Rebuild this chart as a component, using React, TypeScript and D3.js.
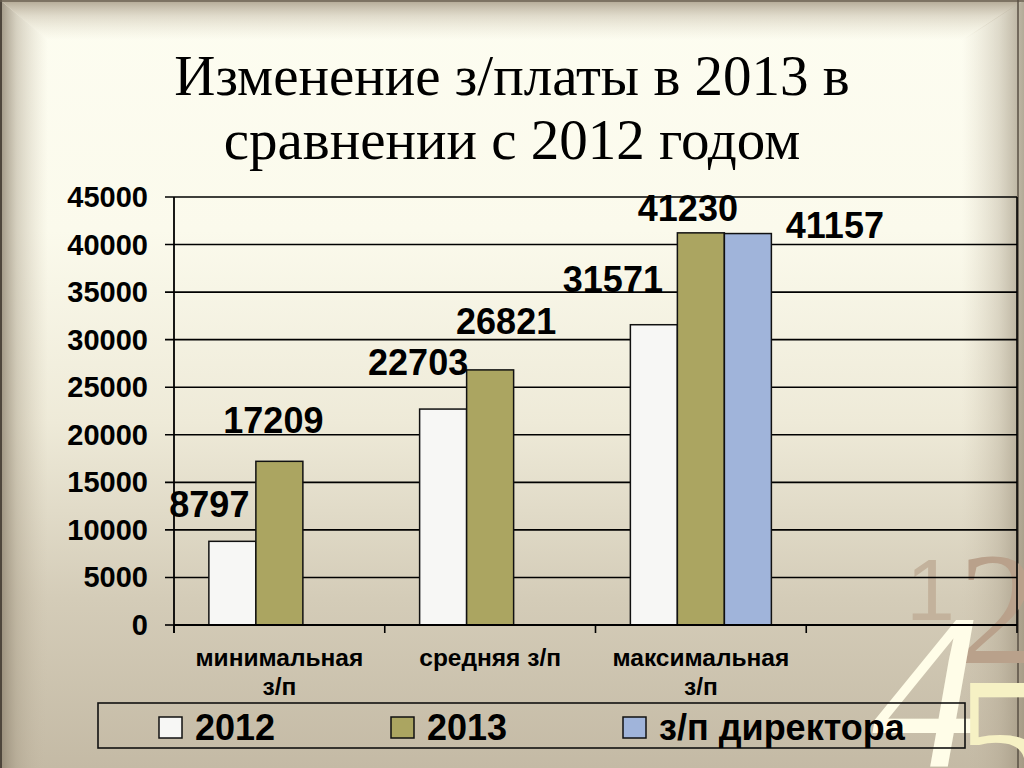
import React from "react";
import * as d3 from "d3";

// ---- data ----
const categories = ["минимальная\nз/п", "средняя з/п", "максимальная\nз/п", ""];
const seriesNames = ["2012", "2013", "з/п директора"];
const values2012: (number | null)[] = [8797, 22703, 31571, null];
const values2013: (number | null)[] = [17209, 26821, 41230, null];
const valuesDirector: (number | null)[] = [null, null, 41157, null];
const yTicks = [0, 5000, 10000, 15000, 20000, 25000, 30000, 35000, 40000, 45000];
const titleLines = ["Изменение з/платы в 2013 в", "сравнении с 2012 годом"];

// ---- style ----
const seriesColors = ["#F7F7F5", "#ABA561", "#A0B4DA"];
// label offsets (px) relative to bar centre / bar top, per series, per category
const labelNudges: [number, number][][] = [
  [[-23, -24], [-25, -34], [-41, -33], [0, 0]],
  [[-6, -28], [16, -36], [-13, -12], [0, 0]],
  [[0, 0], [0, 0], [87, 4], [0, 0]],
];

const W = 1024;
const H = 768;
const plot = { left: 174, right: 1017, top: 197, bottom: 625 };
const SANS = "'Liberation Sans', Arial, Helvetica, sans-serif";
const SERIF = "'Liberation Serif', 'Times New Roman', Times, serif";

export default function App() {
  const seriesValues = [values2012, values2013, valuesDirector];
  const x0 = d3
    .scaleBand<string>()
    .domain(categories.map((_, i) => String(i)))
    .range([plot.left, plot.right])
    .paddingInner(0)
    .paddingOuter(0);
  const x1 = d3
    .scaleBand<string>()
    .domain(seriesNames)
    .range([0, x0.bandwidth()])
    .paddingInner(0)
    .paddingOuter(0.742);
  const y = d3.scaleLinear().domain([0, 45000]).range([plot.bottom, plot.top]);

  const bars: JSX.Element[] = [];
  const labels: JSX.Element[] = [];
  seriesNames.forEach((s, si) => {
    seriesValues[si].forEach((v, ci) => {
      if (v == null) return;
      const bx = (x0(String(ci)) as number) + (x1(s) as number);
      const bw = x1.bandwidth();
      const by = y(v);
      bars.push(
        <rect
          key={`b-${si}-${ci}`}
          x={bx}
          y={by}
          width={bw}
          height={plot.bottom - by}
          fill={seriesColors[si]}
          stroke="#111"
          strokeWidth={1.5}
        />
      );
      const [dx, dy] = labelNudges[si][ci];
      labels.push(
        <text
          key={`l-${si}-${ci}`}
          x={bx + bw / 2 + dx}
          y={by + dy}
          textAnchor="middle"
          fontFamily={SANS}
          fontWeight="bold"
          fontSize={36}
          fill="#000"
        >
          {v}
        </text>
      );
    });
  });

  const boundaries = [...categories.map((_, i) => x0(String(i)) as number), plot.right];

  return (
    <svg
      width={W}
      height={H}
      viewBox={`0 0 ${W} ${H}`}
      style={{ position: "absolute", left: 0, top: 0, display: "block" }}
    >
      <defs>
        <linearGradient id="bg" x1="0" y1="0" x2="0" y2="1">
          <stop offset="0" stopColor="#FDFDF1" />
          <stop offset="0.3" stopColor="#FBFAEC" />
          <stop offset="0.55" stopColor="#EEEAD8" />
          <stop offset="0.78" stopColor="#D4CCB8" />
          <stop offset="1" stopColor="#C4BAA5" />
        </linearGradient>
        <linearGradient id="fl" x1="0" y1="0" x2="1" y2="0">
          <stop offset="0" stopColor="#8E8370" stopOpacity="0.85" />
          <stop offset="0.35" stopColor="#A89D88" stopOpacity="0.45" />
          <stop offset="1" stopColor="#C8BDA8" stopOpacity="0" />
        </linearGradient>
        <linearGradient id="ft" x1="0" y1="0" x2="0" y2="1">
          <stop offset="0" stopColor="#A39782" stopOpacity="0.85" />
          <stop offset="0.4" stopColor="#BDB29D" stopOpacity="0.45" />
          <stop offset="1" stopColor="#D8CFBA" stopOpacity="0" />
        </linearGradient>
        <linearGradient id="fr" x1="1" y1="0" x2="0" y2="0">
          <stop offset="0" stopColor="#9A8F7A" stopOpacity="0.75" />
          <stop offset="0.4" stopColor="#B0A590" stopOpacity="0.4" />
          <stop offset="1" stopColor="#C8BDA8" stopOpacity="0" />
        </linearGradient>
      </defs>

      {/* background */}
      <rect x={0} y={0} width={W} height={H} fill="url(#bg)" />
      <polygon points={`0,0 48,40 48,${H} 0,${H}`} fill="url(#fl)" />
      <polygon points={`0,0 ${W},0 ${W - 60},40 48,40`} fill="url(#ft)" />
      <polygon points={`${W},0 ${W - 62},40 ${W - 62},${H} ${W},${H}`} fill="url(#fr)" />
      <line x1={1} y1={0} x2={1} y2={H} stroke="#4E463C" strokeWidth={2} />
      <line x1={0} y1={1} x2={W} y2={1} stroke="#6A6052" strokeWidth={1.5} />
      <line x1={1018} y1={0} x2={1018} y2={H} stroke="#5A5044" strokeWidth={1.5} />

      {/* decorative numerals */}
      <text x={906} y={620} fontFamily={SANS} fontSize={88} fill="#C3B29C">1</text>
      <text x={958} y={663} fontFamily={SERIF} fontSize={160} fill="#B9A18B">2</text>
      <text x={872} y={767} fontFamily={SERIF} fontStyle="italic" fontSize={222} fill="#FFFDE8">4</text>
      <text x={955} y={808} fontFamily={SERIF} fontSize={190} fill="#F6F1C4">5</text>

      {/* title */}
      {titleLines.map((t, i) => (
        <text
          key={`t${i}`}
          x={512}
          y={95 + i * 64}
          textAnchor="middle"
          fontFamily={SERIF}
          fontSize={57}
          fill="#000"
        >
          {t}
        </text>
      ))}

      {/* gridlines & ticks */}
      {yTicks.map((t) => (
        <g key={`g${t}`}>
          <line
            x1={plot.left - 9}
            x2={t === 0 ? plot.left + 4 : plot.right}
            y1={y(t)}
            y2={y(t)}
            stroke="#000"
            strokeWidth={1.6}
          />
          <text
            x={148}
            y={y(t) + 10}
            textAnchor="end"
            fontFamily={SANS}
            fontWeight="bold"
            fontSize={29}
            fill="#000"
          >
            {t}
          </text>
        </g>
      ))}

      {/* plot border right */}
      <line x1={plot.right} x2={plot.right} y1={plot.top} y2={plot.bottom} stroke="#000" strokeWidth={1.6} />

      {/* bars */}
      {bars}

      {/* axes */}
      <line x1={plot.left} x2={plot.left} y1={plot.top} y2={plot.bottom + 8} stroke="#000" strokeWidth={1.8} />
      <line x1={plot.left} x2={plot.right} y1={plot.bottom} y2={plot.bottom} stroke="#000" strokeWidth={1.8} />
      {boundaries.map((bx, i) => (
        <line key={`ct${i}`} x1={bx} x2={bx} y1={plot.bottom} y2={plot.bottom + 8} stroke="#000" strokeWidth={1.6} />
      ))}

      {/* category labels */}
      {categories.map((c, i) => (
        <text
          key={`c${i}`}
          x={(x0(String(i)) as number) + x0.bandwidth() / 2}
          y={666}
          textAnchor="middle"
          fontFamily={SANS}
          fontWeight="bold"
          fontSize={24.5}
          fill="#000"
        >
          {c.split("\n").map((ln, li) => (
            <tspan key={li} x={(x0(String(i)) as number) + x0.bandwidth() / 2} dy={li === 0 ? 0 : 29}>
              {ln}
            </tspan>
          ))}
        </text>
      ))}

      {/* data labels */}
      {labels}

      {/* legend */}
      <rect x={98} y={703} width={867} height={45} fill="none" stroke="#111" strokeWidth={1.6} />
      {seriesNames.map((s, i) => (
        <g key={`lg${i}`}>
          <rect
            x={159 + i * 232}
            y={717}
            width={23}
            height={21}
            fill={seriesColors[i]}
            stroke="#111"
            strokeWidth={1.5}
          />
          <text
            x={159 + i * 232 + 36}
            y={740}
            fontFamily={SANS}
            fontWeight="bold"
            fontSize={36}
            fill="#000"
          >
            {s}
          </text>
        </g>
      ))}
    </svg>
  );
}
